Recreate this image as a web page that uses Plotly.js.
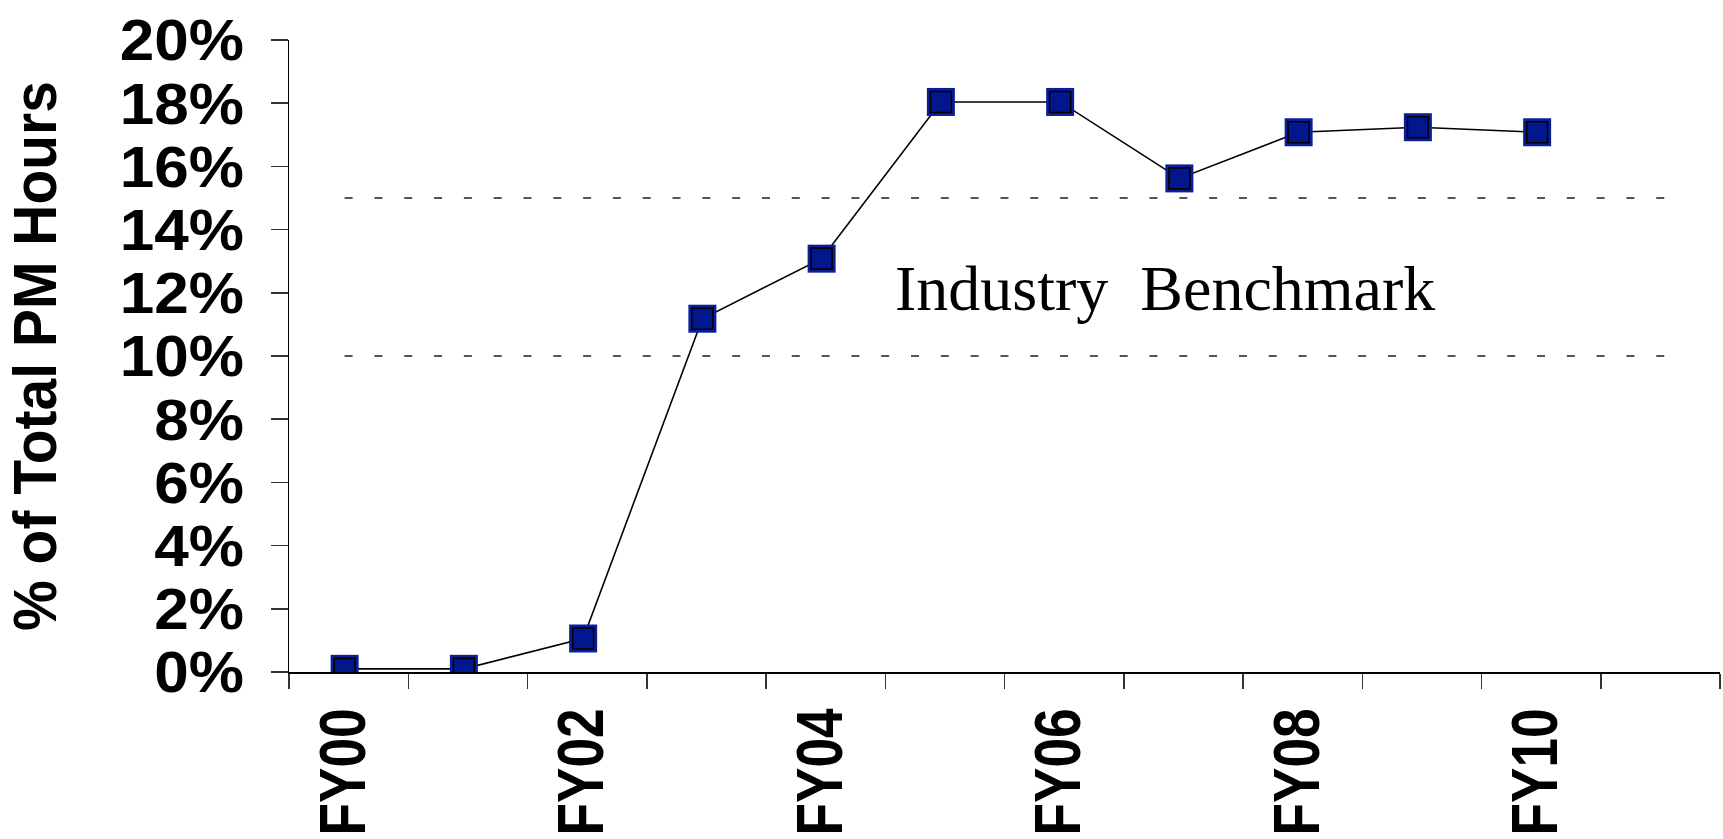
<!DOCTYPE html>
<html>
<head>
<meta charset="utf-8">
<script src="https://cdn.plot.ly/plotly-3.0.1.min.js"></script>
<style>
html,body{margin:0;padding:0;background:#fff;}
#chart{width:1723px;height:839px;}
</style>
</head>
<body>
<div id="chart"></div>
<script>
// Data
const categories = ['FY00','FY01','FY02','FY03','FY04','FY05','FY06','FY07','FY08','FY09','FY10','FY11'];
const tickLabels = ['FY00','','FY02','','FY04','','FY06','','FY08','','FY10',''];
const pmShare = [0.001, 0.001, 0.0106, 0.1118, 0.1308, 0.1804, 0.1804, 0.1562, 0.1708, 0.1724, 0.1708];
const benchmarkLow = 0.10;
const benchmarkHigh = 0.15;
const benchmarkLabel = 'Industry\u00a0 Benchmark';
const yTickVals = [0,0.02,0.04,0.06,0.08,0.10,0.12,0.14,0.16,0.18,0.20];

const xData = categories.slice(0, pmShare.length);
const nCat = categories.length;
const catPx = (1723 - 289 - 3) / nCat;
const markerShift = 4 / catPx;   // the reference draws its points a few px left of centre

const traces = [
  {x: xData, y: pmShare, xaxis: 'x2', type: 'scatter', mode: 'lines',
   line: {color: '#000', width: 1.6}, hoverinfo: 'skip', showlegend: false},
  {x: xData, y: pmShare, xaxis: 'x2', type: 'scatter', mode: 'markers',
   marker: {symbol: 'square', size: 28, color: '#0A1E9C', line: {width: 0}},
   hoverinfo: 'skip', showlegend: false},
  {x: xData, y: pmShare, xaxis: 'x2', type: 'scatter', mode: 'markers',
   marker: {symbol: 'square', size: 21, color: '#02178E', line: {color: '#000', width: 1.6}},
   showlegend: false}
];

const dashOffset = 4 / catPx;
const dashLine = {color: '#555', width: 2, dash: '8px,' + (catPx / 4 - 8).toFixed(2) + 'px'};
const layout = {
  width: 1723, height: 839,
  margin: {l: 289, r: 3, t: 40, b: 167, pad: 0},
  paper_bgcolor: '#fff', plot_bgcolor: '#fff',
  showlegend: false,
  xaxis: {
    type: 'category',
    categoryorder: 'array', categoryarray: categories,
    range: [-0.5, nCat - 0.5],
    tickmode: 'array', tickvals: categories, ticktext: tickLabels,
    tickson: 'boundaries',
    ticks: 'outside', ticklen: 15, tickwidth: 1.5, tickcolor: '#333',
    showline: true, linecolor: '#000', linewidth: 1.5,
    showgrid: false, zeroline: false,
    tickangle: -90,
    ticklabelstandoff: 8,
    tickfont: {family: '"Liberation Sans", Arial, sans-serif', size: 65, color: '#000', weight: 'bold'}
  },
  xaxis2: {
    type: 'category', overlaying: 'x', visible: false,
    categoryorder: 'array', categoryarray: categories,
    range: [-0.5 + markerShift, nCat - 0.5 + markerShift]
  },
  yaxis: {
    range: [0, 0.2],
    tickmode: 'array', tickvals: yTickVals,
    tickformat: '.0%',
    ticks: 'outside', ticklen: 17, tickwidth: 1.5, tickcolor: '#333',
    showline: true, linecolor: '#000', linewidth: 1.5,
    showgrid: false, zeroline: false,
    ticklabelstandoff: 18,
    tickfont: {family: '"Liberation Sans", Arial, sans-serif', size: 58, color: '#000', weight: 'bold'},
    title: {text: '% of Total PM Hours', standoff: 48,
            font: {family: '"Liberation Sans", Arial, sans-serif', size: 62, color: '#000', weight: 'bold'}}
  },
  shapes: [
    {type: 'line', xref: 'x', yref: 'y', x0: -dashOffset, x1: nCat - 1 + dashOffset, y0: benchmarkHigh, y1: benchmarkHigh, line: dashLine, layer: 'below'},
    {type: 'line', xref: 'x', yref: 'y', x0: -dashOffset, x1: nCat - 1 + dashOffset, y0: benchmarkLow, y1: benchmarkLow, line: dashLine, layer: 'below'}
  ],
  annotations: [
    {text: benchmarkLabel, xref: 'paper', yref: 'y', x: 0.612, y: (benchmarkLow + benchmarkHigh) / 2 - 0.0035,
     xanchor: 'center', yanchor: 'middle', showarrow: false,
     font: {family: '"Liberation Serif", "Times New Roman", serif', size: 64, color: '#000'}}
  ]
};

// Scale a text element about a screen anchor and move it by (dx, dy)
function rescale(el, sx, sy, ax, ay, dx, dy) {
  const inv = el.parentNode.getScreenCTM().inverse();
  const p = new DOMPoint(ax, ay).matrixTransform(inv);
  const q = new DOMPoint(ax + dx, ay + dy).matrixTransform(inv);
  const orig = el.getAttribute('transform') || '';
  el.setAttribute('transform',
    'translate(' + q.x + ' ' + q.y + ') scale(' + sx + ' ' + sy + ') translate(' + (-p.x) + ' ' + (-p.y) + ') ' + orig);
}
// Condense rotated text along its length (the reference uses a narrow face)
function condense(el, targetLen, targetCenterY, dx) {
  const r = el.getBoundingClientRect();
  if (!r.height) return;
  const cx = r.left + r.width / 2;
  const cy = r.top + r.height / 2;
  const ty = (targetCenterY == null) ? cy : targetCenterY;
  rescale(el, 1, targetLen / r.height, cx, cy, dx || 0, ty - cy);
}

Plotly.newPlot('chart', traces, layout, {displayModeBar: false, staticPlot: true}).then(function (gd) {
  gd.querySelectorAll('.xaxislayer-above .xtick text').forEach(function (t) {
    if (t.textContent.trim()) condense(t, 127, 709 + 63, -5);
  });
  const yt = gd.querySelector('.g-ytitle text');
  if (yt) condense(yt, 550, null, 0);
  // slightly wider y tick labels, anchored at their right edge
  gd.querySelectorAll('.yaxislayer-above .ytick text').forEach(function (t) {
    const r = t.getBoundingClientRect();
    if (!r.width) return;
    rescale(t, 1.07, 1, r.right, r.top + r.height / 2, 3, 0);
  });
});
</script>
</body>
</html>
